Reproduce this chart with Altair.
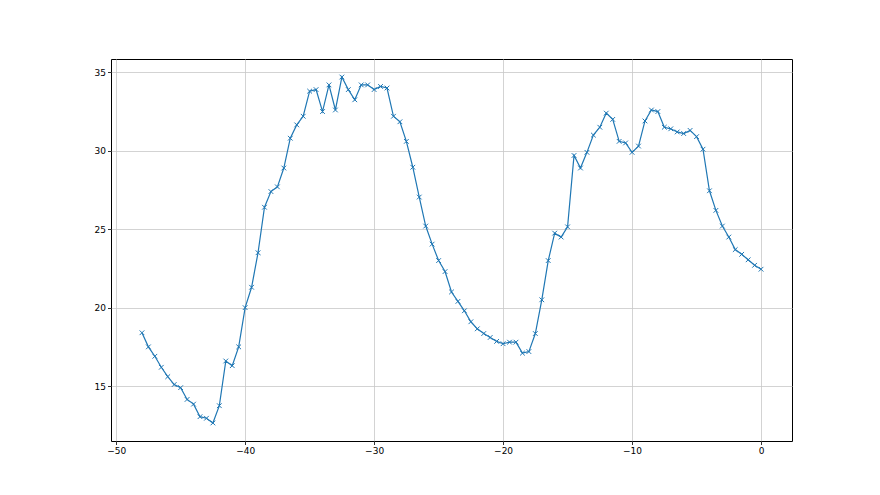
import altair as alt
import pandas as pd

x_vals = [i * 0.5 - 48 for i in range(97)]
y_vals = [
    18.4, 17.5, 16.9, 16.2, 15.6, 15.1, 14.9, 14.15, 13.85, 13.05, 12.95, 12.65,
    13.75, 16.6, 16.3, 17.5, 20.0, 21.3, 23.5, 26.4, 27.4, 27.7, 28.9, 30.8,
    31.65, 32.2, 33.8, 33.9, 32.5, 34.2, 32.6, 34.7, 33.9, 33.25, 34.2, 34.2,
    33.9, 34.1, 34.0, 32.2, 31.85, 30.6, 28.95, 27.05, 25.2, 24.05, 23.0, 22.3,
    21.0, 20.4, 19.8, 19.1, 18.65, 18.35, 18.1, 17.85, 17.7, 17.8, 17.8, 17.1,
    17.2, 18.35, 20.5, 23.0, 24.75, 24.5, 25.15, 29.7, 28.9, 29.9, 31.0, 31.5,
    32.4, 32.0, 30.6, 30.5, 29.9, 30.3, 31.9, 32.6, 32.5, 31.5, 31.4, 31.2,
    31.1, 31.3, 30.9, 30.1, 27.45, 26.2, 25.2, 24.5, 23.7, 23.4, 23.05, 22.7,
    22.45,
]
x_ticks = [-50, -40, -30, -20, -10, 0]
y_ticks = [15, 20, 25, 30, 35]

df = pd.DataFrame({"x": x_vals, "y": y_vals})

xenc = alt.X("x:Q", scale=alt.Scale(domain=[-50.4, 2.4], nice=False, zero=False),
             axis=alt.Axis(values=x_ticks, title=None, format="d"))
yenc = alt.Y("y:Q", scale=alt.Scale(domain=[11.5, 35.85], nice=False, zero=False),
             axis=alt.Axis(values=y_ticks, title=None, format="d"))

line = alt.Chart(df).mark_line(color="#1f77b4", strokeWidth=1.2).encode(x=xenc, y=yenc)
pts = alt.Chart(df).mark_point(
    shape="M-1,-1L1,1M-1,1L1,-1", filled=False, color="#1f77b4", size=22, strokeWidth=1, opacity=1
).encode(x=xenc, y=yenc)

chart = (line + pts).properties(
    width=681, height=382,
    autosize=alt.AutoSizeParams(type="none"),
    padding={"left": 103, "top": 51, "right": 80, "bottom": 46},
    background="white",
).configure_view(
    stroke="black", strokeWidth=1
).configure_axis(
    domain=False, grid=True, gridColor="#c8c8c8", gridWidth=0.8,
    tickColor="black", tickSize=3.5, tickWidth=0.8,
    labelFont="DejaVu Sans", labelFontSize=9, labelColor="black", labelPadding=2,
)

chart.save("out.html", embed_options={"renderer": "svg", "actions": False})
